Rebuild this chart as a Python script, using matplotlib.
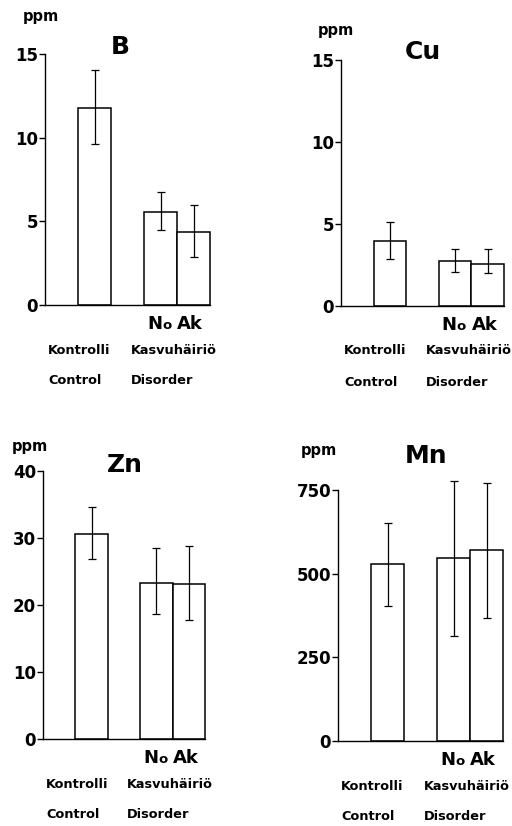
import matplotlib
matplotlib.use('Agg')
import matplotlib.pyplot as plt

# data (ppm): control, disorder "No", disorder "Ak"
elements = ['B', 'Cu', 'Zn', 'Mn']
b_mean = [11.8, 5.55, 4.35]
b_hi = [14.05, 6.75, 6.0]
b_lo = [9.6, 4.5, 2.85]
cu_mean = [3.95, 2.75, 2.55]
cu_hi = [5.15, 3.45, 3.45]
cu_lo = [2.85, 2.05, 2.0]
zn_mean = [30.6, 23.3, 23.1]
zn_hi = [34.7, 28.5, 28.8]
zn_lo = [26.9, 18.6, 17.7]
mn_mean = [529, 546, 571]
mn_hi = [650, 777, 770]
mn_lo = [404, 314, 367]

yticks = {'B': [0, 5, 10, 15], 'Cu': [0, 5, 10, 15],
          'Zn': [0, 10, 20, 30, 40], 'Mn': [0, 250, 500, 750]}
ymax = {'B': 15, 'Cu': 15, 'Zn': 40, 'Mn': 750}
bar_x = [1.5, 3.5, 4.5]

W, H = 512, 826
fig = plt.figure(figsize=(W / 100, H / 100), dpi=100)
fig.patch.set_facecolor('white')
FONT = 'DejaVu Sans'

# axes boxes in pixels: left, right, top, bottom
boxes = {'B': (45, 210, 54, 305), 'Cu': (341, 504, 60, 306),
         'Zn': (43, 205, 471, 739), 'Mn': (338, 503, 490, 741)}
ppm_pos = {'B': (41, 17), 'Cu': (336, 30), 'Zn': (30, 446), 'Mn': (319, 450)}
title_pos = {'B': (120, 47), 'Cu': (423, 52), 'Zn': (125, 465), 'Mn': (426, 456)}

series = {'B': (b_mean, b_hi, b_lo), 'Cu': (cu_mean, cu_hi, cu_lo),
          'Zn': (zn_mean, zn_hi, zn_lo), 'Mn': (mn_mean, mn_hi, mn_lo)}


def px(x, y):
    return x / W, 1 - y / H


def under(ax, txt, xx, off, **kw):
    # text placed `off` pixels below the baseline of the axes
    return ax.annotate(txt, xy=(xx, 0), xycoords=('data', 'axes fraction'),
                       xytext=(0, -off * 0.72), textcoords='offset points',
                       fontweight='bold', family=FONT, **kw)


for el in elements:
    l, r, t, b = boxes[el]
    ax = fig.add_axes([l / W, 1 - b / H, (r - l) / W, (b - t) / H])
    mean, hi, lo = series[el]
    err = [[m - v for m, v in zip(mean, lo)], [v - m for m, v in zip(mean, hi)]]
    ax.bar(bar_x, mean, width=1.0, color='white', edgecolor='black',
           linewidth=1.1, zorder=2, clip_on=False)
    ax.errorbar(bar_x, mean, yerr=err, fmt='none', ecolor='black',
                elinewidth=0.9, capsize=3, capthick=0.9, zorder=3, clip_on=False)
    ax.set_xlim(0, 5)
    ax.set_ylim(0, ymax[el])
    ax.set_yticks(yticks[el])
    ax.set_xticks([])
    for s in ['top', 'right']:
        ax.spines[s].set_visible(False)
    for s in ['left', 'bottom']:
        ax.spines[s].set_linewidth(1.0)
    ax.tick_params(axis='y', direction='out', length=4, width=1.0, pad=1,
                   labelsize=12)
    for lab in ax.get_yticklabels():
        lab.set_fontweight('bold')
        lab.set_family(FONT)

    fig.text(*px(*ppm_pos[el]), 'ppm', ha='center', va='center',
             fontsize=10.5, fontweight='bold', family=FONT)
    fig.text(*px(*title_pos[el]), el, ha='center', va='center',
             fontsize=18, fontweight='bold', family=FONT)

    # "No" / "Ak" under the disorder bars
    under(ax, 'N', bar_x[1] + 0.05, 24, ha='right', va='baseline', fontsize=13)
    under(ax, 'o', bar_x[1] + 0.05, 24, ha='left', va='baseline', fontsize=9.5)
    under(ax, 'Ak', bar_x[2] - 0.1, 24, ha='center', va='baseline', fontsize=13)

    for txt, xx, off in [('Kontrolli', 0.1, 45), ('Kasvuhäiriö', 2.6, 45),
                         ('Control', 0.1, 76), ('Disorder', 2.6, 76)]:
        under(ax, txt, xx, off, ha='left', va='center', fontsize=9.3)

fig.savefig('out.png', dpi=100, facecolor='white')
